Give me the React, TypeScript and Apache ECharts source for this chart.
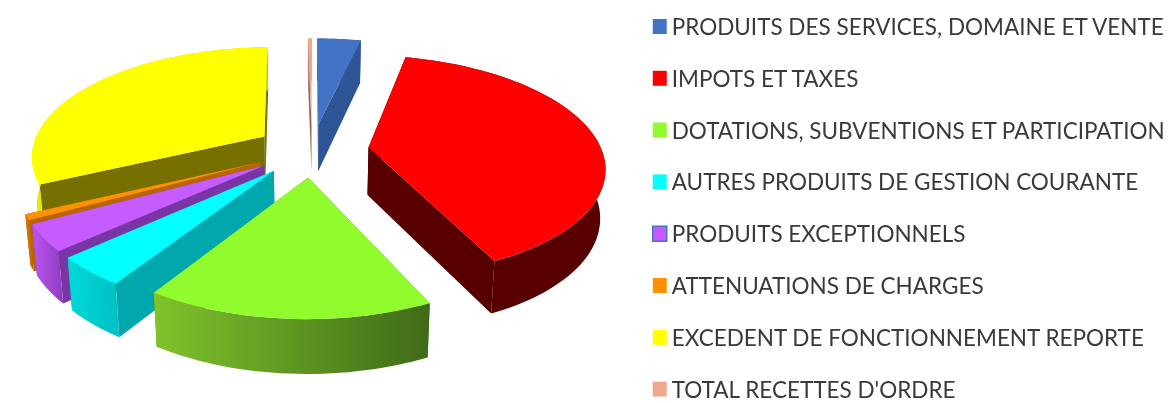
import React, { useEffect, useRef } from "react";
import * as echarts from "echarts";

const categories = [
  "PRODUITS DES SERVICES, DOMAINE ET VENTE",
  "IMPOTS ET TAXES",
  "DOTATIONS, SUBVENTIONS ET PARTICIPATION",
  "AUTRES PRODUITS DE GESTION COURANTE",
  "PRODUITS EXCEPTIONNELS",
  "ATTENUATIONS DE CHARGES",
  "EXCEDENT DE FONCTIONNEMENT REPORTE",
  "TOTAL RECETTES D'ORDRE",
];
const values = [3.6, 39.4, 16.1, 4.2, 3.8, 0.8, 31.8, 0.3];
const topColors = ["#4472c4", "#ff0000", "#92fb2d", "#00ffff", "#c65cff", "#ff9000", "#ffff00", "#f2a78c"];
const sideColors = ["#2f5597", "#580000", "#5f9423", "#00a8ae", "#7a35a5", "#b86500", "#757000", "#8a6a60"];
const arcStart = ["#2f5597", "#580000", "#7fc42b", "#00d8d8", "#bb55f0", "#d97a00", "#e8e800", "#b08070"];
const arcEnd = ["#2f5597", "#580000", "#3f6a18", "#00c0c4", "#8e3cc0", "#b86500", "#d0d000", "#b08070"];
const drawOrder = [6, 7, 0, 1, 5, 4, 3, 2];

const CX = 312, CY = 150, RX = 233, RY = 108, K = 0.165, DEPTH = 48, EXPLODE = 0.245;
const total = values.reduce((a, b) => a + b, 0);

function project(u: number, v: number, drop: number): number[] {
  const s = 1 / (1 - K * v);
  return [CX + RX * u * s * (1 - 0.018 * drop), CY + RY * v * s + drop * DEPTH / (1 - 0.1 * v)];
}

function sliceRenderer(index: number) {
  return (_params: any, api: any) => {
    const value = api.value(0);
    let before = 0;
    for (let i = 0; i < index; i++) before += values[i];
    const a0 = (before / total) * Math.PI * 2;
    const a1 = a0 + (value / total) * Math.PI * 2;
    const mid = (a0 + a1) / 2;
    const ou = EXPLODE * Math.sin(mid);
    const ov = -EXPLODE * Math.cos(mid);
    const steps = Math.max(2, Math.ceil((a1 - a0) / 0.03));
    const arc = (drop: number) => {
      const pts: number[][] = [];
      for (let i = 0; i <= steps; i++) {
        const a = a0 + ((a1 - a0) * i) / steps;
        pts.push(project(ou + Math.sin(a), ov - Math.cos(a), drop));
      }
      return pts;
    };
    const top = arc(0);
    const bottom = arc(1);
    const apexTop = project(ou, ov, 0);
    const apexBottom = project(ou, ov, 1);
    const last = top.length - 1;
    const poly = (points: number[][], fill: any) => ({
      type: "polygon",
      shape: { points },
      style: { fill, stroke: "none" },
    });
    return {
      type: "group",
      children: [
        poly([apexTop, top[0], bottom[0], apexBottom], sideColors[index]),
        poly([apexTop, top[last], bottom[last], apexBottom], sideColors[index]),
        poly(
          [...top, ...bottom.slice().reverse()],
          new echarts.graphic.LinearGradient(0, 0, 1, 0, [
            { offset: 0, color: arcStart[index] },
            { offset: 1, color: arcEnd[index] },
          ])
        ),
        poly([apexTop, ...top], topColors[index]),
      ],
    };
  };
}

export default function App() {
  const ref = useRef<HTMLDivElement>(null);
  useEffect(() => {
    const chart = echarts.init(ref.current!, null, { renderer: "svg" });
    chart.setOption({
      animation: false,
      backgroundColor: "#ffffff",
      legend: {
        orient: "vertical",
        left: 647,
        top: 10,
        height: 460,
        itemWidth: 14,
        itemHeight: 15,
        itemGap: 28.8,
        icon: "rect",
        selectedMode: false,
        textStyle: { fontFamily: "Lato", fontSize: 22.5, lineHeight: 20, color: "#3a3a3a" },
        data: categories.map((name, i) => ({
          name,
          itemStyle: i === 4 ? { color: topColors[4], borderColor: "#4472c4", borderWidth: 1.5 } : { color: topColors[i], borderWidth: 0 },
        })),
      },
      series: drawOrder.map((i) => ({
        type: "custom",
        name: categories[i],
        coordinateSystem: "none",
        silent: true,
        itemStyle: { color: topColors[i] },
        data: [[values[i]]],
        renderItem: sliceRenderer(i),
      })),
    });
    return () => chart.dispose();
  }, []);
  return (
    <div
      ref={ref}
      style={{ position: "absolute", left: 0, top: 0, width: 1172, height: 403, overflow: "hidden", filter: "blur(0.7px)" }}
    />
  );
}
